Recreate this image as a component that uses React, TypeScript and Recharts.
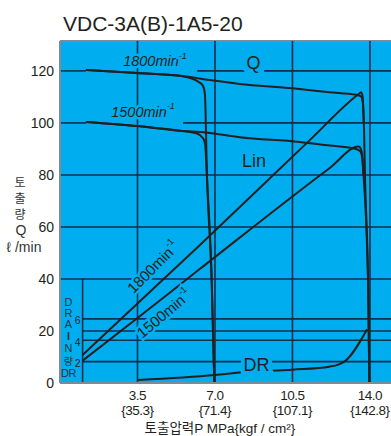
import React from "react";
import {
  LineChart,
  Line,
  XAxis,
  YAxis,
  CartesianGrid,
  ReferenceLine,
  ReferenceDot,
} from "recharts";

type Pt = { x: number; y: number };

// axes
const pressureTicks = [3.5, 7, 10.5, 14];
const kgfLabels = ["{35.3}", "{71.4}", "{107.1}", "{142.8}"];
const flowTicks = [0, 20, 40, 60, 80, 100, 120];
const drainTicks = [2, 4, 6];
const drainLetters = ["D", "R", "A", "I", "N", "량", "DR"];

// Q at 1800 / 1500 min-1, cut-off at 7 MPa and at 14 MPa
const q1800Low: Pt[] = [
  { x: 1.17, y: 120.4 }, { x: 3.5, y: 119.2 }, { x: 5.41, y: 118.1 },
  { x: 6.31, y: 115.5 }, { x: 6.46, y: 114.2 }, { x: 6.54, y: 111.5 },
  { x: 6.57, y: 106 }, { x: 6.62, y: 86 }, { x: 6.85, y: 40 }, { x: 6.97, y: 0 },
];
const q1800High: Pt[] = [
  { x: 1.17, y: 120.4 }, { x: 3.5, y: 119.2 }, { x: 5.41, y: 118.1 },
  { x: 6.9, y: 116.3 }, { x: 8.11, y: 115 }, { x: 10.5, y: 113.3 },
  { x: 12.17, y: 111.8 }, { x: 13.37, y: 110.8 }, { x: 13.6, y: 110.2 },
  { x: 13.68, y: 107.5 }, { x: 13.73, y: 98 }, { x: 13.78, y: 78 },
  { x: 13.93, y: 32 }, { x: 13.97, y: 0 },
];
const q1500Low: Pt[] = [
  { x: 1.17, y: 100.4 }, { x: 3.5, y: 98.8 }, { x: 5.41, y: 97 },
  { x: 6.16, y: 96 }, { x: 6.46, y: 94.1 }, { x: 6.55, y: 92 },
  { x: 6.58, y: 89 }, { x: 6.62, y: 82 }, { x: 6.85, y: 40 }, { x: 6.97, y: 0 },
];
const q1500High: Pt[] = [
  { x: 1.17, y: 100.4 }, { x: 3.5, y: 98.8 }, { x: 5.41, y: 97 },
  { x: 6.61, y: 96.3 }, { x: 8.11, y: 94.5 }, { x: 10.82, y: 92.7 },
  { x: 12.17, y: 91.3 }, { x: 13.25, y: 90.2 }, { x: 13.55, y: 89.2 },
  { x: 13.66, y: 86 }, { x: 13.71, y: 80 }, { x: 13.93, y: 32 }, { x: 13.97, y: 0 },
];

// input power
const lin1800: Pt[] = [
  { x: 1.02, y: 10.8 }, { x: 3.5, y: 30.6 }, { x: 6.31, y: 53 },
  { x: 11.27, y: 93.3 }, { x: 13.52, y: 111.3 }, { x: 13.6, y: 111.8 },
  { x: 13.67, y: 110 }, { x: 13.72, y: 100 },
];
const lin1500: Pt[] = [
  { x: 1.02, y: 8.6 }, { x: 3.5, y: 25 }, { x: 6.31, y: 43.8 },
  { x: 12.17, y: 82.6 }, { x: 13.49, y: 90.9 }, { x: 13.58, y: 90.2 },
  { x: 13.65, y: 87.5 }, { x: 13.7, y: 80 },
];

// drain flow (own scale)
const drainDR: Pt[] = [
  { x: 3.53, y: 0.28 }, { x: 7, y: 0.75 }, { x: 8.26, y: 1 },
  { x: 10.5, y: 1.25 }, { x: 12.17, y: 1.53 }, { x: 12.6, y: 1.75 },
  { x: 12.87, y: 2.05 }, { x: 13.87, y: 5.03 },
];

const INK = "#231f20";
const BG = "#00aeef";
const GRID = "#0b2f50";
const BORDER = "#7d8b98";
const SANS = "'Liberation Sans', Arial, sans-serif";
const KR = "'Noto Sans CJK KR', sans-serif";

const X_MAX = 14.95;
const Y_MAX = 131.5;
const DR_MAX = 32;

type TagOpts = { size?: number; angle?: number; italic?: boolean; sup?: string; halo?: number };

function tag(text: string, o: TagOpts = {}) {
  return (props: any) => {
    const vb = props.viewBox ?? {};
    const cx = (vb.x ?? 0) + (vb.width ?? 0) / 2;
    const cy = (vb.y ?? 0) + (vb.height ?? 0) / 2;
    const size = o.size ?? 14;
    return (
      <text
        x={cx}
        y={cy}
        transform={o.angle ? `rotate(${o.angle} ${cx} ${cy})` : undefined}
        textAnchor="middle"
        dominantBaseline="central"
        fontSize={size}
        fontFamily={SANS}
        fontStyle={o.italic ? "italic" : "normal"}
        fill={INK}
        stroke={o.halo ? BG : "none"}
        strokeWidth={o.halo ?? 0}
        style={{ paintOrder: "stroke" }}
      >
        {text}
        {o.sup ? (
          <tspan dy={-size * 0.38} fontSize={size * 0.62}>
            {o.sup}
          </tspan>
        ) : null}
      </text>
    );
  };
}

function PressureTick({ x, y, payload }: any) {
  const i = pressureTicks.indexOf(payload.value);
  return (
    <g fontFamily={SANS} fontSize={13.5} letterSpacing={-0.5} fill={INK} textAnchor="middle">
      <text x={x} y={y + 17}>{payload.value.toFixed(1)}</text>
      <text x={x} y={y + 32}>{kgfLabels[i]}</text>
    </g>
  );
}

function FlowTitle() {
  return (
    <g fill="#333" textAnchor="middle">
      <text x={20} y={187} fontFamily={KR} fontSize={12}>토</text>
      <text x={20} y={203} fontFamily={KR} fontSize={12}>출</text>
      <text x={20} y={219} fontFamily={KR} fontSize={12}>량</text>
      <text x={21} y={235} fontFamily={SANS} fontSize={14}>Q</text>
      <text x={24} y={252} fontFamily={SANS} fontSize={14}>ℓ /min</text>
    </g>
  );
}

function PressureTitle() {
  return (
    <text x={220} y={433} textAnchor="middle" fontFamily={SANS} fontSize={13.5} fill={INK}>
      <tspan fontFamily={KR}>토출압력</tspan>P MPa{"{"}kgf / cm²{"}"}
    </text>
  );
}

function DrainColumn(props: any) {
  const vb = props.viewBox ?? {};
  const cx = (vb.x ?? 0) + (vb.width ?? 0) / 2;
  const cy = (vb.y ?? 0) + (vb.height ?? 0) / 2;
  const offsets = [0, 11.3, 22.3, 34.5, 46.3, 58.5, 71];
  return (
    <g textAnchor="middle" fill="#333" fontSize={11}>
      {drainLetters.map((c, i) => (
        <text
          key={c + i}
          x={cx}
          y={cy + offsets[i]}
          dominantBaseline="central"
          fontWeight={c === "I" ? "bold" : "normal"}
          fontFamily={c === "량" ? KR : SANS}
          fontSize={c === "량" ? 10 : 11}
          letterSpacing={c === "DR" ? -0.6 : 0}
        >
          {c}
        </text>
      ))}
    </g>
  );
}

const hSeg = (y: number, x1: number, x2: number) => ({ y, x1, x2 });

const hLines = [
  hSeg(120, 0, 1.17), hSeg(120, 6.2, X_MAX),
  hSeg(100, 0, 1.17), hSeg(100, 5.56, X_MAX),
  hSeg(80, 0, X_MAX), hSeg(60, 0, X_MAX), hSeg(40, 0, X_MAX),
  hSeg(20, 1.02, X_MAX),
];

export default function App() {
  return (
    <div style={{ position: "absolute", left: 0, top: 0, width: 391, height: 436, background: "#fff" }}>
      <div
        style={{
          position: "absolute",
          left: 63,
          top: 13,
          fontFamily: SANS,
          fontSize: 21,
          lineHeight: "21px",
          color: INK,
          whiteSpace: "nowrap",
        }}
      >
        VDC-3A(B)-1A5-20
      </div>
      <LineChart width={391} height={436} margin={{ top: 41, right: 0, bottom: 0, left: 0 }}>
        <CartesianGrid horizontal={false} vertical={false} fill={BG} fillOpacity={1} />
        <XAxis
          type="number"
          dataKey="x"
          domain={[0, X_MAX]}
          ticks={pressureTicks}
          height={53}
          tickSize={0}
          tickMargin={0}
          tick={<PressureTick />}
          axisLine={{ stroke: BORDER, strokeWidth: 2 }}
          label={() => <PressureTitle />}
        />
        <YAxis
          type="number"
          domain={[0, Y_MAX]}
          ticks={flowTicks}
          width={60}
          tickSize={0}
          tickMargin={6}
          tick={{ fill: INK, fontSize: 14, fontFamily: SANS }}
          axisLine={{ stroke: BORDER, strokeWidth: 2 }}
          label={() => <FlowTitle />}
        />
        <YAxis yAxisId="dr" type="number" domain={[0, DR_MAX]} hide />

        <ReferenceLine y={Y_MAX} stroke={BORDER} strokeWidth={2} />
        {hLines.map((l, i) => (
          <ReferenceLine
            key={"h" + i}
            segment={[{ x: l.x1, y: l.y }, { x: l.x2, y: l.y }]}
            stroke={GRID}
            strokeWidth={1.6}
          />
        ))}
        {drainTicks.map((d) => (
          <ReferenceLine
            key={"d" + d}
            yAxisId="dr"
            segment={[{ x: 1.02, y: d }, { x: X_MAX, y: d }]}
            stroke={GRID}
            strokeWidth={1.6}
          />
        ))}
        {pressureTicks.map((p) => (
          <ReferenceLine key={"v" + p} x={p} stroke={GRID} strokeWidth={1.6} />
        ))}
        <ReferenceLine segment={[{ x: 1.02, y: 0 }, { x: 1.02, y: 40 }]} stroke={GRID} strokeWidth={1.6} />

        <Line data={q1800Low} dataKey="y" type="monotone" stroke={INK} strokeWidth={2} dot={false} isAnimationActive={false} />
        <Line data={q1800High} dataKey="y" type="monotone" stroke={INK} strokeWidth={2} dot={false} isAnimationActive={false} />
        <Line data={q1500Low} dataKey="y" type="monotone" stroke={INK} strokeWidth={2} dot={false} isAnimationActive={false} />
        <Line data={q1500High} dataKey="y" type="monotone" stroke={INK} strokeWidth={2} dot={false} isAnimationActive={false} />
        <Line data={lin1800} dataKey="y" type="monotone" stroke={INK} strokeWidth={2} dot={false} isAnimationActive={false} />
        <Line data={lin1500} dataKey="y" type="monotone" stroke={INK} strokeWidth={2} dot={false} isAnimationActive={false} />
        <Line data={drainDR} yAxisId="dr" dataKey="y" type="monotone" stroke={INK} strokeWidth={2} dot={false} isAnimationActive={false} />

        <ReferenceDot x={4.29} y={123.8} r={0} stroke="none" fill="none" label={tag("1800min", { size: 14.5, italic: true, sup: "-1", halo: 5 })} />
        <ReferenceDot x={3.75} y={104.2} r={0} stroke="none" fill="none" label={tag("1500min", { size: 14.5, italic: true, sup: "-1", halo: 5 })} />
        <ReferenceDot x={8.74} y={122.9} r={0} stroke="none" fill="none" label={tag("Q", { size: 18, halo: 12 })} />
        <ReferenceDot x={8.76} y={85.4} r={0} stroke="none" fill="none" label={tag("Lin", { size: 18 })} />
        <ReferenceDot x={8.88} y={7.1} r={0} stroke="none" fill="none" label={tag("DR", { size: 18, halo: 8 })} />
        <ReferenceDot x={4.2} y={44.6} r={0} stroke="none" fill="none" label={tag("1800min", { size: 15, angle: -45, sup: "-1", halo: 5 })} />
        <ReferenceDot x={4.7} y={26.7} r={0} stroke="none" fill="none" label={tag("1500min", { size: 15, angle: -40, sup: "-1", halo: 5 })} />
        {drainTicks.map((d) => (
          <ReferenceDot key={"t" + d} yAxisId="dr" x={0.8} y={d - 0.15} r={0} stroke="none" fill="none" label={tag(String(d), { size: 10.5 })} />
        ))}
        <ReferenceDot x={0.38} y={31.3} r={0} stroke="none" fill="none" label={DrainColumn} />
      </LineChart>
    </div>
  );
}
